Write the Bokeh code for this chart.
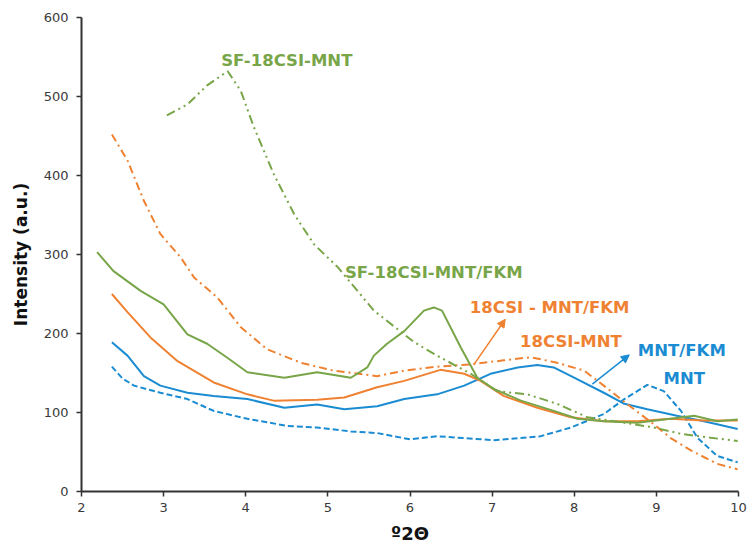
from bokeh.plotting import figure
from bokeh.models import Label, Arrow, NormalHead
from bokeh.embed import file_html
from bokeh.resources import INLINE

# XRD patterns, intensity vs degrees 2-theta
mnt_x = [2.37, 2.5, 2.64, 2.96, 3.29, 3.61, 4.02, 4.51, 4.87, 5.28, 5.6, 6.0, 6.33,
         7.02, 7.59, 7.96, 8.36, 8.61, 8.89, 9.09, 9.30, 9.5, 9.74, 9.99]
mnt_y = [158, 143, 134, 125, 117, 102, 92, 83, 81, 76, 74, 66, 70,
         65, 70, 81, 98, 117, 135, 127, 102, 68, 45, 37]

mnt_fkm_x = [2.37, 2.56, 2.76, 2.96, 3.29, 3.61, 4.02, 4.47, 4.87, 5.2, 5.6, 5.93, 6.33,
             6.66, 6.98, 7.31, 7.55, 7.75, 8.04, 8.36, 8.61, 8.89, 9.25, 9.58, 9.99]
mnt_fkm_y = [189, 172, 146, 134, 125, 121, 117, 106, 110, 104, 108, 117, 123,
             134, 149, 157, 160, 157, 142, 125, 111, 104, 96, 89, 79]

csi_fkm_x = [2.37, 2.56, 2.84, 3.17, 3.61, 4.02, 4.34, 4.87, 5.2, 5.6, 5.93, 6.37,
             6.66, 6.86, 7.14, 7.55, 7.96, 8.36, 8.77, 9.17, 9.58, 9.99]
csi_fkm_y = [250, 227, 195, 165, 138, 123, 115, 116, 119, 132, 140, 154,
             149, 140, 121, 106, 94, 89, 89, 92, 90, 90]

csi_x = [2.37, 2.56, 2.76, 2.96, 3.21, 3.37, 3.65, 3.94, 4.26, 4.67, 5.07, 5.6, 5.93,
         6.33, 6.74, 7.14, 7.47, 7.79, 8.12, 8.36, 8.64, 8.97, 9.17, 9.42, 9.74, 9.99]
csi_y = [452, 419, 368, 326, 296, 271, 246, 208, 180, 163, 153, 146, 153,
         158, 161, 166, 170, 163, 153, 134, 111, 85, 68, 52, 35, 28]

sf_fkm_x = [2.19, 2.39, 2.72, 3.0, 3.29, 3.53, 3.78, 4.02, 4.47, 4.87, 5.28, 5.48, 5.56,
            5.72, 5.93, 6.17, 6.29, 6.39, 6.62, 6.82, 7.02, 7.35, 7.75, 8.04, 8.36,
            8.77, 9.17, 9.46, 9.74, 9.99]
sf_fkm_y = [303, 279, 254, 237, 199, 187, 169, 151, 144, 151, 144, 157, 172,
            187, 203, 229, 233, 229, 182, 144, 130, 115, 102, 92, 89,
            87, 92, 96, 89, 91]

sf_x = [3.04, 3.29, 3.53, 3.78, 3.94, 4.1, 4.34, 4.59, 4.83, 5.12, 5.56, 6.05, 6.33,
        6.74, 7.06, 7.43, 7.79, 8.16, 8.61, 8.97, 9.30, 9.66, 9.99]
sf_y = [476, 490, 514, 532, 507, 461, 402, 351, 313, 284, 229, 189, 172,
        149, 127, 123, 111, 94, 87, 81, 73, 68, 64]

BLUE = "#1b8cd2"
ORANGE = "#ef8232"
GREEN = "#78a548"
AXIS = "#333333"
LABEL_FONT = "DejaVu Sans"

p = figure(width=752, height=546, x_range=(2, 10), y_range=(0, 600),
           output_backend="svg", toolbar_location=None,
           min_border_left=81, min_border_right=14,
           min_border_top=17, min_border_bottom=55)
p.outline_line_color = None
p.grid.visible = False
p.background_fill_color = "white"
p.border_fill_color = "white"

for ax in (p.xaxis[0], p.yaxis[0]):
    ax.axis_line_color = AXIS
    ax.axis_line_width = 2
    ax.major_tick_line_color = AXIS
    ax.major_tick_line_width = 1.5
    ax.major_tick_out = 5
    ax.major_tick_in = 0
    ax.minor_tick_line_color = None
    ax.major_label_text_font = LABEL_FONT
    ax.major_label_text_font_size = "13px"
    ax.major_label_text_color = "#3a3a3a"
    ax.axis_label_text_font = LABEL_FONT
    ax.axis_label_text_font_style = "bold"
    ax.axis_label_text_color = "#111111"

p.xaxis.ticker = list(range(2, 11))
p.yaxis.ticker = list(range(0, 601, 100))
p.xaxis.major_label_standoff = 6
p.yaxis.major_label_standoff = 8

# Axis titles
p.yaxis.axis_label = "Intensity (a.u.)"
p.yaxis.axis_label_text_font_size = "17px"
p.yaxis.axis_label_standoff = 10
p.xaxis.axis_label = "º2Θ"
p.xaxis.axis_label_text_font_size = "18px"
p.xaxis.axis_label_standoff = 8

lw = 2
p.line(mnt_x, mnt_y, color=BLUE, line_width=lw, line_dash="6 3")
p.line(mnt_fkm_x, mnt_fkm_y, color=BLUE, line_width=lw)
p.line(csi_x, csi_y, color=ORANGE, line_width=lw, line_dash="8 4 2 4")
p.line(csi_fkm_x, csi_fkm_y, color=ORANGE, line_width=lw)
p.line(sf_x, sf_y, color=GREEN, line_width=lw, line_dash="9 4 2 4 2 4")
p.line(sf_fkm_x, sf_fkm_y, color=GREEN, line_width=lw)

# Series names
names = [
    ("SF-18CSI-MNT", 4.50, 546, GREEN),
    ("SF-18CSI-MNT/FKM", 6.29, 277, GREEN),
    ("18CSI - MNT/FKM", 7.70, 233, ORANGE),
    ("18CSI-MNT", 7.96, 189.5, ORANGE),
    ("MNT/FKM", 9.31, 179, BLUE),
    ("MNT", 9.34, 143, BLUE),
]
for txt, x, y, c in names:
    p.add_layout(Label(x=x, y=y, text=txt, text_color=c, text_font=LABEL_FONT,
                       text_font_style="bold", text_font_size="16.5px",
                       text_align="center", text_baseline="middle"))

p.add_layout(Arrow(x_start=6.78, y_start=161, x_end=7.16, y_end=218,
                   line_color=ORANGE, line_width=1.5,
                   end=NormalHead(size=8, fill_color=ORANGE, line_color=ORANGE)))
p.add_layout(Arrow(x_start=8.22, y_start=136, x_end=8.67, y_end=173,
                   line_color=BLUE, line_width=1.5,
                   end=NormalHead(size=8, fill_color=BLUE, line_color=BLUE)))

open("out.html", "w").write(file_html(p, INLINE))
